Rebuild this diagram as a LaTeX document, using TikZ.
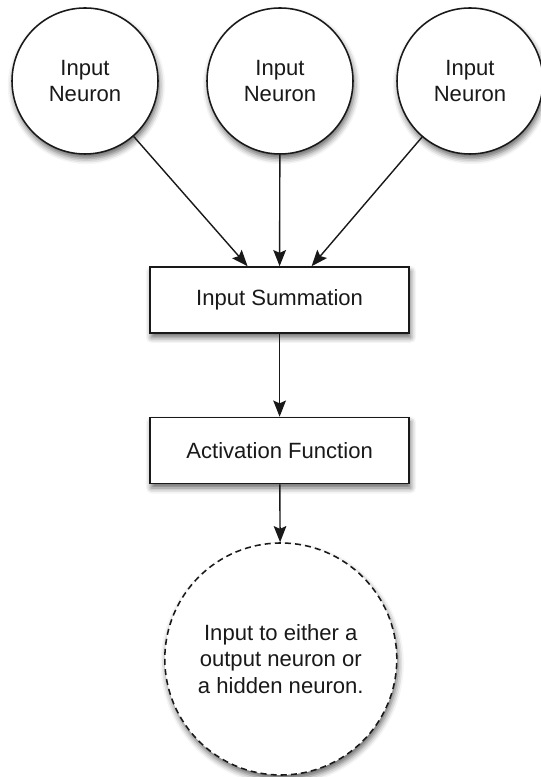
\documentclass[tikz,border=0pt]{standalone}
\usepackage{fontspec}
\setmainfont{Liberation Sans}
\usetikzlibrary{arrows.meta,shadows.blur}

\begin{document}
\begin{tikzpicture}[x=1cm,y=1cm,
  font=\fontsize{15.7}{19}\selectfont,
  soft/.style={blur shadow={shadow xshift=1pt,shadow yshift=-3.2pt,
    shadow blur radius=4pt,shadow opacity=60}},
  neuron/.style={circle,draw=black!90,line width=1.1pt,fill=white,soft,
    minimum size=3.65cm,inner sep=0pt,align=center,text=black!90},
  stage/.style={rectangle,draw=black!90,line width=1.1pt,fill=white,soft,
    minimum width=6.475cm,minimum height=1.65cm,text=black!90},
  outcell/.style={neuron,dash pattern=on 4.3pt off 2.9pt,minimum size=5.8cm},
  flow/.style={-{Stealth[length=11.5pt,width=9pt,inset=2pt]},
    line width=1pt,draw=black!90}]
  \useasboundingbox (0,0) rectangle (13.5,19.425);

  % three input neurons across the top
  \node[neuron] (inA) at (2.125,17.4) {Input\\Neuron};
  \node[neuron] (inB) at (7.0,17.4) {Input\\Neuron};
  \node[neuron] (inC) at (11.75,17.4) {Input\\Neuron};

  % processing stages
  \node[stage] (sum) at (6.99,11.925) {Input Summation};
  \node[stage] (act) at (6.99,8.1625) {Activation Function};

  % where the signal goes next
  \node[outcell] (out) at (7.02,2.95)
    {Input to either a\\output neuron or\\a hidden neuron.};

  \draw[flow] (inA) -- ([xshift=-0.8cm]sum.north);
  \draw[flow] (inB) -- (sum.north);
  \draw[flow] (inC) -- ([xshift=0.8cm]sum.north);
  \draw[flow] (sum) -- (act);
  \draw[flow] (act) -- (out);
\end{tikzpicture}
\end{document}
